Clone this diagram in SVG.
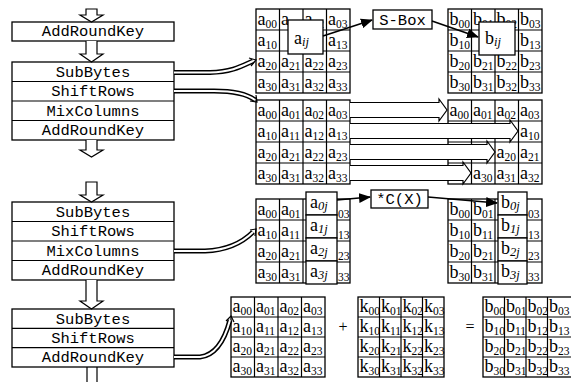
<svg xmlns="http://www.w3.org/2000/svg" width="571" height="382" viewBox="0 0 571 382">
<defs>
<marker id="ah" markerWidth="12" markerHeight="10" refX="11" refY="5" orient="auto" markerUnits="userSpaceOnUse">
<path d="M0,0 L12,5 L0,10 z" fill="#000"/>
</marker>
<style>
.box{fill:#fff;stroke:#000;stroke-width:1.3}
.ln{fill:none;stroke:#000;stroke-width:1.2}
.lbl{font-family:"Liberation Mono","DejaVu Sans Mono",monospace;font-size:15.5px;text-anchor:middle;fill:#000}
.t{font-family:"Liberation Serif","Times New Roman",serif;font-size:18px;fill:#000}
.s{font-size:11.5px}
.i{font-size:12.5px;font-style:italic}
.so{font-family:"Liberation Serif",serif;font-size:11.5px;fill:#000}
.tubeo{fill:none;stroke:#000;stroke-width:5}
.tubei{fill:none;stroke:#fff;stroke-width:2}
.hol{fill:#fff;stroke:#000;stroke-width:1.2;stroke-linejoin:miter}
.arr{fill:none;stroke:#000;stroke-width:1.6;marker-end:url(#ah)}
.op{font-family:"Liberation Serif",serif;font-size:16px;text-anchor:middle;fill:#000}
</style>
</defs>
<rect width="571" height="382" fill="#fff"/>

<!-- left process boxes -->
<g id="box-top">
<rect class="box" x="12" y="22" width="162" height="19"/>
<text class="lbl" x="93" y="36">AddRoundKey</text>
</g>
<g id="round1">
<rect class="box" x="12" y="62" width="162" height="78"/>
<path class="ln" d="M12,81.5H174M12,101H174M12,120.5H174"/>
<text class="lbl" x="93" y="76.5">SubBytes</text>
<text class="lbl" x="93" y="96">ShiftRows</text>
<text class="lbl" x="93" y="115.5">MixColumns</text>
<text class="lbl" x="93" y="135">AddRoundKey</text>
</g>
<g id="round2">
<rect class="box" x="12" y="202" width="162" height="78"/>
<path class="ln" d="M12,221.5H174M12,241H174M12,260.5H174"/>
<text class="lbl" x="93" y="216.5">SubBytes</text>
<text class="lbl" x="93" y="236">ShiftRows</text>
<text class="lbl" x="93" y="255.5">MixColumns</text>
<text class="lbl" x="93" y="275">AddRoundKey</text>
</g>
<g id="final-round">
<rect class="box" x="12" y="309" width="162" height="58"/>
<path class="ln" d="M12,328.3H174M12,347.6H174"/>
<text class="lbl" x="93" y="323.5">SubBytes</text>
<text class="lbl" x="93" y="343">ShiftRows</text>
<text class="lbl" x="93" y="362">AddRoundKey</text>
</g>

<!-- SubBytes: input state -->
<g id="sub-in">
<rect class="box" x="256" y="9" width="94" height="84"/>
<path class="ln" d="M279.5,9V93M303,9V93M326.5,9V93M256,30H350M256,51H350M256,72H350"/>
<text class="t" x="257.5" y="24.5">a<tspan class="s" dy="3">00</tspan></text>
<text class="t" x="281" y="24.5">a<tspan class="s" dy="3">01</tspan></text>
<text class="t" x="304.5" y="24.5">a<tspan class="s" dy="3">02</tspan></text>
<text class="t" x="328" y="24.5">a<tspan class="s" dy="3">03</tspan></text>
<text class="t" x="257.5" y="45.5">a<tspan class="s" dy="3">10</tspan></text>
<text class="t" x="328" y="45.5">a<tspan class="s" dy="3">13</tspan></text>
<text class="t" x="257.5" y="66.5">a<tspan class="s" dy="3">20</tspan></text>
<text class="t" x="281" y="66.5">a<tspan class="s" dy="3">21</tspan></text>
<text class="t" x="304.5" y="66.5">a<tspan class="s" dy="3">22</tspan></text>
<text class="t" x="328" y="66.5">a<tspan class="s" dy="3">23</tspan></text>
<text class="t" x="257.5" y="87.5">a<tspan class="s" dy="3">30</tspan></text>
<text class="t" x="281" y="87.5">a<tspan class="s" dy="3">31</tspan></text>
<text class="t" x="304.5" y="87.5">a<tspan class="s" dy="3">32</tspan></text>
<text class="t" x="328" y="87.5">a<tspan class="s" dy="3">33</tspan></text>
<rect class="box" x="288" y="20" width="35" height="34"/>
<text class="t" x="294" y="44">a<tspan class="i" dy="2">ij</tspan></text>
</g>
<g id="sbox">
<rect class="box" x="373" y="10" width="59" height="19"/>
<text class="lbl" x="402.5" y="25">S-Box</text>
</g>
<g id="sub-out">
<rect class="box" x="448" y="9" width="94" height="84"/>
<path class="ln" d="M471.5,9V93M495,9V93M518.5,9V93M448,30H542M448,51H542M448,72H542"/>
<text class="t" x="449.5" y="24.5">b<tspan class="s" dy="3">00</tspan></text>
<text class="t" x="473" y="24.5">b<tspan class="s" dy="3">01</tspan></text>
<text class="t" x="496.5" y="24.5">b<tspan class="s" dy="3">02</tspan></text>
<text class="t" x="520" y="24.5">b<tspan class="s" dy="3">03</tspan></text>
<text class="t" x="449.5" y="45.5">b<tspan class="s" dy="3">10</tspan></text>
<text class="t" x="520" y="45.5">b<tspan class="s" dy="3">13</tspan></text>
<text class="t" x="449.5" y="66.5">b<tspan class="s" dy="3">20</tspan></text>
<text class="t" x="473" y="66.5">b<tspan class="s" dy="3">21</tspan></text>
<text class="t" x="496.5" y="66.5">b<tspan class="s" dy="3">22</tspan></text>
<text class="t" x="520" y="66.5">b<tspan class="s" dy="3">23</tspan></text>
<text class="t" x="449.5" y="87.5">b<tspan class="s" dy="3">30</tspan></text>
<text class="t" x="473" y="87.5">b<tspan class="s" dy="3">31</tspan></text>
<text class="t" x="496.5" y="87.5">b<tspan class="s" dy="3">32</tspan></text>
<text class="t" x="520" y="87.5">b<tspan class="s" dy="3">33</tspan></text>
<rect class="box" x="479" y="22" width="36" height="33"/>
<text class="t" x="485" y="44">b<tspan class="i" dy="2">ij</tspan></text>
</g>

<!-- ShiftRows -->
<g id="shift-in">
<rect class="box" x="256" y="100" width="94" height="84"/>
<path class="ln" d="M279.5,100V184M303,100V184M326.5,100V184M256,121H350M256,142H350M256,163H350"/>
<text class="t" x="257.5" y="115.5">a<tspan class="s" dy="3">00</tspan></text>
<text class="t" x="281" y="115.5">a<tspan class="s" dy="3">01</tspan></text>
<text class="t" x="304.5" y="115.5">a<tspan class="s" dy="3">02</tspan></text>
<text class="t" x="328" y="115.5">a<tspan class="s" dy="3">03</tspan></text>
<text class="t" x="257.5" y="136.5">a<tspan class="s" dy="3">10</tspan></text>
<text class="t" x="281" y="136.5">a<tspan class="s" dy="3">11</tspan></text>
<text class="t" x="304.5" y="136.5">a<tspan class="s" dy="3">12</tspan></text>
<text class="t" x="328" y="136.5">a<tspan class="s" dy="3">13</tspan></text>
<text class="t" x="257.5" y="157.5">a<tspan class="s" dy="3">20</tspan></text>
<text class="t" x="281" y="157.5">a<tspan class="s" dy="3">21</tspan></text>
<text class="t" x="304.5" y="157.5">a<tspan class="s" dy="3">22</tspan></text>
<text class="t" x="328" y="157.5">a<tspan class="s" dy="3">23</tspan></text>
<text class="t" x="257.5" y="178.5">a<tspan class="s" dy="3">30</tspan></text>
<text class="t" x="281" y="178.5">a<tspan class="s" dy="3">31</tspan></text>
<text class="t" x="304.5" y="178.5">a<tspan class="s" dy="3">32</tspan></text>
<text class="t" x="328" y="178.5">a<tspan class="s" dy="3">33</tspan></text>
</g>
<g id="shift-out">
<rect class="box" x="448" y="100" width="94" height="84"/>
<path class="ln" d="M471.5,100V184M495,100V184M518.5,100V184M448,121H542M448,142H542M448,163H542"/>
<text class="t" x="449.5" y="115.5">a<tspan class="s" dy="3">00</tspan></text>
<text class="t" x="473" y="115.5">a<tspan class="s" dy="3">01</tspan></text>
<text class="t" x="496.5" y="115.5">a<tspan class="s" dy="3">02</tspan></text>
<text class="t" x="520" y="115.5">a<tspan class="s" dy="3">03</tspan></text>
<text class="t" x="520" y="136.5">a<tspan class="s" dy="3">10</tspan></text>
<text class="t" x="496.5" y="157.5">a<tspan class="s" dy="3">20</tspan></text>
<text class="t" x="520" y="157.5">a<tspan class="s" dy="3">21</tspan></text>
<text class="t" x="473" y="178.5">a<tspan class="s" dy="3">30</tspan></text>
<text class="t" x="496.5" y="178.5">a<tspan class="s" dy="3">31</tspan></text>
<text class="t" x="520" y="178.5">a<tspan class="s" dy="3">32</tspan></text>
</g>

<!-- MixColumns -->
<g id="mix-in">
<rect class="box" x="256" y="199" width="94" height="84"/>
<path class="ln" d="M279.5,199V283M303,199V283M326.5,199V283M256,220H350M256,241H350M256,262H350"/>
<text class="t" x="257.5" y="214.5">a<tspan class="s" dy="3">00</tspan></text>
<text class="t" x="281" y="214.5">a<tspan class="s" dy="3">01</tspan></text>
<text class="t" x="257.5" y="235.5">a<tspan class="s" dy="3">10</tspan></text>
<text class="t" x="281" y="235.5">a<tspan class="s" dy="3">11</tspan></text>
<text class="t" x="257.5" y="256.5">a<tspan class="s" dy="3">20</tspan></text>
<text class="t" x="281" y="256.5">a<tspan class="s" dy="3">21</tspan></text>
<text class="t" x="257.5" y="277.5">a<tspan class="s" dy="3">30</tspan></text>
<text class="t" x="281" y="277.5">a<tspan class="s" dy="3">31</tspan></text>
<text class="so" x="338" y="217.5">03</text>
<text class="so" x="338" y="238.5">13</text>
<text class="so" x="338" y="259.5">23</text>
<text class="so" x="338" y="280.5">33</text>
<rect class="box" x="306" y="192" width="31" height="23"/>
<rect class="box" x="306" y="215" width="31" height="23"/>
<rect class="box" x="306" y="238" width="31" height="23"/>
<rect class="box" x="306" y="261" width="31" height="23"/>
<text class="t" x="310" y="207.5">a<tspan class="i" dy="2">0j</tspan></text>
<text class="t" x="310" y="230.5">a<tspan class="i" dy="2">1j</tspan></text>
<text class="t" x="310" y="253.5">a<tspan class="i" dy="2">2j</tspan></text>
<text class="t" x="310" y="276.5">a<tspan class="i" dy="2">3j</tspan></text>
</g>
<g id="cx">
<rect class="box" x="371" y="190" width="57" height="18"/>
<text class="lbl" x="399.5" y="204">*C(X)</text>
</g>
<g id="mix-out">
<rect class="box" x="448" y="199" width="94" height="84"/>
<path class="ln" d="M471.5,199V283M495,199V283M518.5,199V283M448,220H542M448,241H542M448,262H542"/>
<text class="t" x="449.5" y="214.5">b<tspan class="s" dy="3">00</tspan></text>
<text class="t" x="473" y="214.5">b<tspan class="s" dy="3">01</tspan></text>
<text class="t" x="449.5" y="235.5">b<tspan class="s" dy="3">10</tspan></text>
<text class="t" x="473" y="235.5">b<tspan class="s" dy="3">11</tspan></text>
<text class="t" x="449.5" y="256.5">b<tspan class="s" dy="3">20</tspan></text>
<text class="t" x="473" y="256.5">b<tspan class="s" dy="3">21</tspan></text>
<text class="t" x="449.5" y="277.5">b<tspan class="s" dy="3">30</tspan></text>
<text class="t" x="473" y="277.5">b<tspan class="s" dy="3">31</tspan></text>
<text class="so" x="528" y="217.5">03</text>
<text class="so" x="528" y="238.5">13</text>
<text class="so" x="528" y="259.5">23</text>
<text class="so" x="528" y="280.5">33</text>
<rect class="box" x="498" y="192" width="29" height="23"/>
<rect class="box" x="498" y="215" width="29" height="23"/>
<rect class="box" x="498" y="238" width="29" height="23"/>
<rect class="box" x="498" y="261" width="29" height="23"/>
<text class="t" x="501" y="207.5">b<tspan class="i" dy="2">0j</tspan></text>
<text class="t" x="501" y="230.5">b<tspan class="i" dy="2">1j</tspan></text>
<text class="t" x="501" y="253.5">b<tspan class="i" dy="2">2j</tspan></text>
<text class="t" x="501" y="276.5">b<tspan class="i" dy="2">3j</tspan></text>
</g>

<!-- AddRoundKey -->
<g id="ark-a">
<rect class="box" x="231" y="297" width="94" height="80"/>
<path class="ln" d="M254.5,297V377M278,297V377M301.5,297V377M231,317H325M231,337H325M231,357H325"/>
<text class="t" x="232.5" y="312">a<tspan class="s" dy="3">00</tspan></text>
<text class="t" x="256" y="312">a<tspan class="s" dy="3">01</tspan></text>
<text class="t" x="279.5" y="312">a<tspan class="s" dy="3">02</tspan></text>
<text class="t" x="303" y="312">a<tspan class="s" dy="3">03</tspan></text>
<text class="t" x="232.5" y="332">a<tspan class="s" dy="3">10</tspan></text>
<text class="t" x="256" y="332">a<tspan class="s" dy="3">11</tspan></text>
<text class="t" x="279.5" y="332">a<tspan class="s" dy="3">12</tspan></text>
<text class="t" x="303" y="332">a<tspan class="s" dy="3">13</tspan></text>
<text class="t" x="232.5" y="352">a<tspan class="s" dy="3">20</tspan></text>
<text class="t" x="256" y="352">a<tspan class="s" dy="3">21</tspan></text>
<text class="t" x="279.5" y="352">a<tspan class="s" dy="3">22</tspan></text>
<text class="t" x="303" y="352">a<tspan class="s" dy="3">23</tspan></text>
<text class="t" x="232.5" y="372">a<tspan class="s" dy="3">30</tspan></text>
<text class="t" x="256" y="372">a<tspan class="s" dy="3">31</tspan></text>
<text class="t" x="279.5" y="372">a<tspan class="s" dy="3">32</tspan></text>
<text class="t" x="303" y="372">a<tspan class="s" dy="3">33</tspan></text>
</g>
<text class="op" x="343" y="332">+</text>
<g id="ark-k">
<rect class="box" x="358" y="297" width="86" height="80"/>
<path class="ln" d="M379.5,297V377M401,297V377M422.5,297V377M358,317H444M358,337H444M358,357H444"/>
<text class="t" x="359.5" y="312">k<tspan class="s" dy="3">00</tspan></text>
<text class="t" x="381" y="312">k<tspan class="s" dy="3">01</tspan></text>
<text class="t" x="402.5" y="312">k<tspan class="s" dy="3">02</tspan></text>
<text class="t" x="424" y="312">k<tspan class="s" dy="3">03</tspan></text>
<text class="t" x="359.5" y="332">k<tspan class="s" dy="3">10</tspan></text>
<text class="t" x="381" y="332">k<tspan class="s" dy="3">11</tspan></text>
<text class="t" x="402.5" y="332">k<tspan class="s" dy="3">12</tspan></text>
<text class="t" x="424" y="332">k<tspan class="s" dy="3">13</tspan></text>
<text class="t" x="359.5" y="352">k<tspan class="s" dy="3">20</tspan></text>
<text class="t" x="381" y="352">k<tspan class="s" dy="3">21</tspan></text>
<text class="t" x="402.5" y="352">k<tspan class="s" dy="3">22</tspan></text>
<text class="t" x="424" y="352">k<tspan class="s" dy="3">23</tspan></text>
<text class="t" x="359.5" y="372">k<tspan class="s" dy="3">30</tspan></text>
<text class="t" x="381" y="372">k<tspan class="s" dy="3">31</tspan></text>
<text class="t" x="402.5" y="372">k<tspan class="s" dy="3">32</tspan></text>
<text class="t" x="424" y="372">k<tspan class="s" dy="3">33</tspan></text>
</g>
<text class="op" x="470" y="332">=</text>
<g id="ark-b">
<rect class="box" x="483" y="297" width="100" height="80"/>
<path class="ln" d="M504.5,297V377M526,297V377M547.5,297V377M483,317H583M483,337H583M483,357H583"/>
<text class="t" x="484.5" y="312">b<tspan class="s" dy="3">00</tspan></text>
<text class="t" x="506" y="312">b<tspan class="s" dy="3">01</tspan></text>
<text class="t" x="527.5" y="312">b<tspan class="s" dy="3">02</tspan></text>
<text class="t" x="549" y="312">b<tspan class="s" dy="3">03</tspan></text>
<text class="t" x="484.5" y="332">b<tspan class="s" dy="3">10</tspan></text>
<text class="t" x="506" y="332">b<tspan class="s" dy="3">11</tspan></text>
<text class="t" x="527.5" y="332">b<tspan class="s" dy="3">12</tspan></text>
<text class="t" x="549" y="332">b<tspan class="s" dy="3">13</tspan></text>
<text class="t" x="484.5" y="352">b<tspan class="s" dy="3">20</tspan></text>
<text class="t" x="506" y="352">b<tspan class="s" dy="3">21</tspan></text>
<text class="t" x="527.5" y="352">b<tspan class="s" dy="3">22</tspan></text>
<text class="t" x="549" y="352">b<tspan class="s" dy="3">23</tspan></text>
<text class="t" x="484.5" y="372">b<tspan class="s" dy="3">30</tspan></text>
<text class="t" x="506" y="372">b<tspan class="s" dy="3">31</tspan></text>
<text class="t" x="527.5" y="372">b<tspan class="s" dy="3">32</tspan></text>
<text class="t" x="549" y="372">b<tspan class="s" dy="3">33</tspan></text>
</g>

<!-- connectors -->
<g id="connectors">
<path class="hol" d="M86,9H97V15H103L91.5,22L80,15H86Z"/>
<path class="hol" d="M86,41V54H80L91.5,62L103,54H97V41"/>
<path class="hol" d="M86,140V150H80L91.5,157L103,150H97V140"/>
<path class="hol" d="M86,182H97V195H103L91.5,202L80,195H86Z"/>
<path class="hol" d="M86,280V301H80L91.5,309L103,301H97V280"/>
<path class="ln" d="M87,367V382M97,367V382"/>
<path class="tubeo" d="M174,72.5L210,72.5C232,72 242,66 253,61"/>
<path class="tubei" d="M174,72.5L210,72.5C232,72 242,66 253,61"/>
<path class="ln" d="M249,58L256,60L251,66"/>
<path class="tubeo" d="M174,91L214,91C234,91 247,94 255,100"/>
<path class="tubei" d="M174,91L214,91C234,91 247,94 255,100"/>
<path class="ln" d="M256,95L257,102L250,101"/>
<path class="tubeo" d="M174,251L205,251C230,250 245,240 253,232"/>
<path class="tubei" d="M174,251L205,251C230,250 245,240 253,232"/>
<path class="ln" d="M250,230L256,229L255,236"/>
<path class="tubeo" d="M174,357L200,357C218,355 226,335 230,320"/>
<path class="tubei" d="M174,357L200,357C218,355 226,335 230,320"/>
<path class="ln" d="M226,321L231,316L234,322"/>
<path class="hol" d="M350,165.5H463V162L471,173L463,184V180.5H350"/>
<path class="hol" d="M350,144.5H487V141L495,152L487,163V159.5H350"/>
<path class="hol" d="M350,123.5H510V120L518,131L510,142V138.5H350"/>
<path class="hol" d="M350,102.5H439V99L447,110L439,121V117.5H350"/>
<path class="arr" d="M323,36L372,20"/>
<path class="arr" d="M432,21L478,37"/>
<path class="arr" d="M337,200L370,197"/>
<path class="arr" d="M428,197L497,203"/>
</g>
</svg>
